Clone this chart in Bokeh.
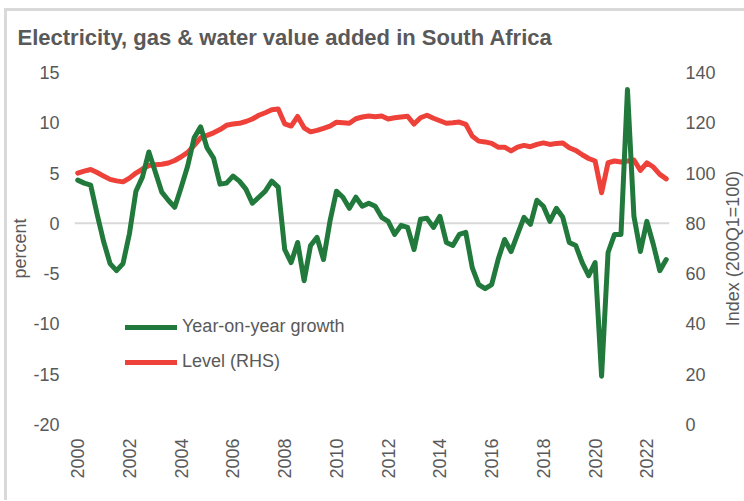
import math
from bokeh.plotting import figure
from bokeh.layouts import row
from bokeh.models import (LinearAxis, Range1d, Span, Legend, LegendItem, FixedTicker)
from bokeh.embed import file_html
from bokeh.resources import INLINE

# ---------------- data (quarterly, 2000Q1 .. 2022Q4) ----------------
start_year = 2000
quarters_per_year = 4

growth = [4.3, 4.0, 3.8, 0.9, -1.8, -4.0, -4.7, -4.0, -1.0, 3.2, 4.6, 7.1,
          5.1, 3.1, 2.3, 1.6, 3.6, 5.7, 8.5, 9.6, 7.5, 6.5, 3.9, 4.0,
          4.7, 4.2, 3.4, 2.0, 2.6, 3.2, 4.2, 3.6, -2.6, -3.9, -1.9, -5.7,
          -2.2, -1.4, -3.6, 0.2, 3.2, 2.6, 1.5, 2.6, 1.7, 2.0, 1.7, 0.6,
          0.2, -1.1, -0.2, -0.4, -2.6, 0.4, 0.5, -0.4, 0.7, -1.9, -2.2, -1.1,
          -0.9, -4.4, -6.1, -6.5, -6.1, -3.6, -1.6, -2.8, -1.1, 0.6, -0.1, 2.3,
          1.7, 0.2, 1.5, 0.6, -1.9, -2.2, -3.9, -5.2, -3.9, -15.2, -2.9, -1.1,
          -1.1, 13.3, 0.7, -2.8, 0.2, -2.1, -4.7, -3.6]

level = [100.0, 100.8, 101.4, 100.2, 98.8, 97.5, 96.9, 96.5, 98.0, 100.0, 101.6, 103.0,
         103.3, 103.5, 104.0, 105.0, 106.5, 108.2, 111.0, 114.0, 115.0, 116.0, 117.3, 119.0,
         119.5, 119.8, 120.5, 121.5, 123.0, 124.0, 125.2, 125.5, 119.6, 118.7, 122.5, 118.0,
         116.4, 117.0, 117.8, 118.7, 120.2, 120.0, 119.8, 121.6, 122.3, 122.7, 122.4, 122.7,
         121.5, 122.0, 122.3, 122.6, 119.5, 122.0, 123.0, 121.8, 120.8, 119.8, 120.0, 120.3,
         119.4, 114.7, 112.7, 112.4, 111.8, 110.3, 110.3, 108.8, 110.3, 111.0, 110.5, 111.4,
         112.0, 111.4, 111.8, 112.0, 110.1, 109.0, 107.3, 105.8, 104.8, 92.2, 104.1, 104.8,
         104.4, 104.8, 105.2, 101.1, 104.1, 102.4, 99.5, 97.7]

x_tick_years = [2000, 2002, 2004, 2006, 2008, 2010, 2012, 2014, 2016, 2018, 2020, 2022]
left_ticks = [-20, -15, -10, -5, 0, 5, 10, 15]
right_ticks = [0, 20, 40, 60, 80, 100, 120, 140]

title_text = "Electricity, gas & water value added in South Africa"
left_label = "percent"
right_label = "Index (200Q1=100)"
growth_name = "Year-on-year growth"
level_name = "Level (RHS)"

x = [start_year + i / quarters_per_year for i in range(len(growth))]

# ---------------- styling ----------------
GREEN = "#217a3c"
RED = "#ee4139"
TEXT = "#595959"
FONT = "Liberation Sans"

p = figure(width=718, height=500, output_backend="svg", toolbar_location=None,
           x_range=Range1d(1999.875, 2022.875), y_range=Range1d(-20, 15),
           min_border_left=74, min_border_right=46, min_border_top=72, min_border_bottom=76,
           styles={"box-shadow": "inset 4px 8px 0px 0px white, inset 7px 11px 0px 0px #d9d9d9"})
p.extra_y_ranges = {"level": Range1d(0, 140)}
p.xgrid.visible = False
p.ygrid.visible = False
p.outline_line_color = None
p.background_fill_color = "white"
p.border_fill_color = None

# title
p.title.text = title_text
p.title.align = "left"
p.title.offset = -57
p.title.text_font = FONT
p.title.text_font_size = "22px"
p.title.text_font_style = "bold"
p.title.text_color = TEXT
p.title.standoff = 45

def style_axis(ax):
    ax.axis_line_color = None
    ax.major_tick_line_color = None
    ax.minor_tick_line_color = None
    ax.major_tick_out = 0
    ax.major_tick_in = 0
    ax.major_label_text_color = TEXT
    ax.major_label_text_font = FONT
    ax.major_label_text_font_size = "18px"
    ax.axis_label_text_color = TEXT
    ax.axis_label_text_font = FONT
    ax.axis_label_text_font_size = "18px"
    ax.axis_label_text_font_style = "normal"

# bottom axis
xa = p.xaxis[0]
style_axis(xa)
xa.ticker = FixedTicker(ticks=x_tick_years)
xa.major_label_orientation = math.pi / 2
xa.major_label_standoff = 14

# left axis
ya = p.yaxis[0]
style_axis(ya)
ya.ticker = FixedTicker(ticks=left_ticks)
ya.major_label_overrides = {t: str(t) for t in left_ticks}
ya.major_label_standoff = 15
ya.axis_label = left_label
ya.axis_label_standoff = 0

# right axis (tick labels only; its title is drawn by the narrow strip figure)
ra = LinearAxis(y_range_name="level", ticker=FixedTicker(ticks=right_ticks))
style_axis(ra)
ra.major_label_standoff = 16
p.add_layout(ra, "right")

# zero line
p.add_layout(Span(location=0, dimension="width", line_color="#d9d9d9",
                  line_width=2, level="underlay"))

r_level = p.line(x, level, y_range_name="level", line_color=RED, line_width=5,
                 line_join="round", line_cap="round")
r_growth = p.line(x, growth, line_color=GREEN, line_width=5,
                  line_join="round", line_cap="round")

legend = Legend(items=[LegendItem(label=growth_name, renderers=[r_growth]),
                       LegendItem(label=level_name, renderers=[r_level])],
                location=(51, 52), orientation="vertical",
                border_line_color=None, background_fill_alpha=0,
                padding=0, margin=0, spacing=14,
                glyph_width=52, glyph_height=20, label_height=20,
                label_standoff=5, label_text_font=FONT,
                label_text_font_size="18px", label_text_color=TEXT)
p.add_layout(legend)

# narrow strip on the right carrying the right-axis title (reads bottom to top)
p2 = figure(width=26, height=500, output_backend="svg", toolbar_location=None,
            x_range=Range1d(0, 1), y_range=Range1d(0, 140),
            min_border_left=24, min_border_right=0, min_border_top=72, min_border_bottom=76,
            styles={"box-shadow": "inset 0px 8px 0px 0px white, inset 0px 11px 0px 0px #d9d9d9"})
p2.xaxis.visible = False
p2.xgrid.visible = False
p2.ygrid.visible = False
p2.outline_line_color = None
p2.background_fill_color = None
p2.border_fill_color = None
sa = p2.yaxis[0]
style_axis(sa)
sa.ticker = FixedTicker(ticks=[])
sa.major_label_standoff = 0
sa.axis_label = right_label
sa.axis_label_standoff = 0

layout = row(p, p2, spacing=0)

open("out.html", "w").write(file_html(layout, INLINE))
